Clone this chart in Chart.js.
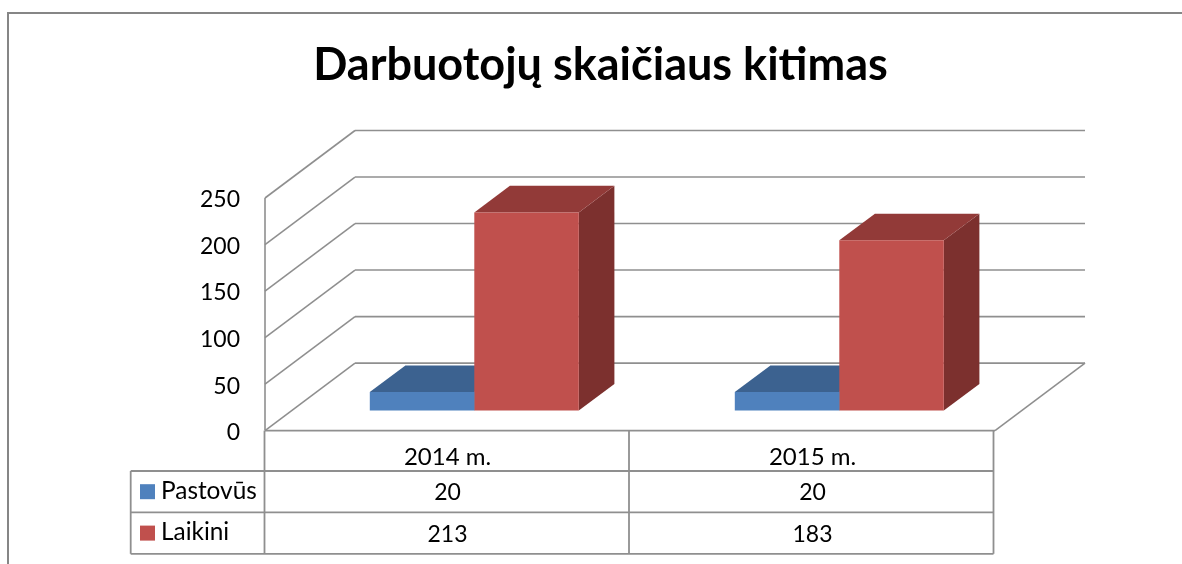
<!DOCTYPE html>
<html>
<head>
<meta charset="utf-8">
<style>html,body{margin:0;padding:0;background:#fff}#wrap{width:1182px;height:564px;position:relative}canvas{display:block}</style>
<script src="https://cdn.jsdelivr.net/npm/chart.js@4"></script>
</head>
<body>
<div id="wrap"><canvas id="c" width="1182" height="564"></canvas></div>
<script>
const categories = ['2014 m.', '2015 m.'];
const pastovus = [20, 20];
const laikini = [213, 183];
const tickValues = [0, 50, 100, 150, 200, 250];
const chartTitle = 'Darbuotojų skaičiaus kitimas';
const FONT = 'Lato, Carlito, sans-serif';
const LINE = '#8f8f8f';
const wall = { dx: 90, dy: -67.5 };
const barOffset = { dx: 26.8, dy: -20 };
const barDepth = { dx: 35.6, dy: -26.6 };
const shades = [
  { top: '#3c6290', side: '#37587f', key: '#4f81bd' },
  { top: '#923a38', side: '#7c302e', key: '#c0504d' }
];
function seg(ctx, x1, y1, x2, y2) { ctx.beginPath(); ctx.moveTo(x1, y1); ctx.lineTo(x2, y2); ctx.stroke(); }
function poly(ctx, pts, fill) {
  ctx.fillStyle = fill; ctx.beginPath();
  pts.forEach((p, i) => i ? ctx.lineTo(p[0], p[1]) : ctx.moveTo(p[0], p[1]));
  ctx.closePath(); ctx.fill();
}
const scene = {
  id: 'scene',
  afterLayout(chart) {
    const y = chart.scales.y;
    y.left = 180;
    if (!y._shifted) {
      y._shifted = true;
      const orig = y.drawLabels;
      y.drawLabels = function (area) {
        const c = chart.ctx; c.save(); c.translate(0, 2); orig.call(this, area); c.restore();
      };
    }
  },
  beforeDatasetsDraw(chart) {
    const ctx = chart.ctx, a = chart.chartArea, y = chart.scales.y;
    ctx.save();
    ctx.strokeStyle = '#868686'; ctx.lineWidth = 2;
    seg(ctx, 8, 564, 8, 13); seg(ctx, 7, 13, 1182, 13);
    ctx.strokeStyle = LINE; ctx.lineWidth = 1.6;
    tickValues.forEach(v => {
      const p = y.getPixelForValue(v);
      seg(ctx, a.left, p, a.left + wall.dx, p + wall.dy);
      seg(ctx, a.left + wall.dx, p + wall.dy, a.right + wall.dx, p + wall.dy);
    });
    seg(ctx, a.left, y.getPixelForValue(250), a.left, y.getPixelForValue(0));
    const p0 = y.getPixelForValue(0);
    seg(ctx, a.left, p0, a.right, p0);
    seg(ctx, a.right, p0, a.right + wall.dx, p0 + wall.dy);
    // back faces of the bars, painted before the library's front faces
    ctx.translate(barOffset.dx, barOffset.dy);
    chart.data.datasets.forEach((ds, i) => {
      const s = shades[i];
      chart.getDatasetMeta(i).data.forEach(b => {
        const L = b.x - b.width / 2, R = b.x + b.width / 2, T = b.y, B = b.base;
        const dx = barDepth.dx, dy = barDepth.dy;
        poly(ctx, [[R, T], [R + dx, T + dy], [R + dx, B + dy], [R, B]], s.side);
        poly(ctx, [[L, T], [L + dx, T + dy], [R + dx, T + dy], [R, T]], s.top);
      });
    });
    ctx.restore();
  },
  beforeDatasetDraw(chart) {
    chart.ctx.save();
    chart.ctx.translate(barOffset.dx, barOffset.dy);
  },
  afterDatasetDraw(chart) { chart.ctx.restore(); },
  afterDraw(chart) {
    const ctx = chart.ctx, a = chart.chartArea, xs = chart.scales.x;
    const left = 130.7, right = 993.5, rowTop = 471, rowH = 41.4, axisY = 430.6;
    const mid = (xs.getPixelForValue(0) + xs.getPixelForValue(1)) / 2 - 1;
    ctx.save();
    ctx.strokeStyle = LINE; ctx.lineWidth = 1.8;
    [0, 1, 2].forEach(i => seg(ctx, left, rowTop + i * rowH, right, rowTop + i * rowH));
    seg(ctx, left, rowTop, left, rowTop + 2 * rowH);
    seg(ctx, a.left - 0.5, axisY, a.left - 0.5, rowTop + 2 * rowH);
    seg(ctx, mid, axisY, mid, rowTop + 2 * rowH);
    seg(ctx, right, axisY, right, rowTop + 2 * rowH);
    ctx.fillStyle = '#000'; ctx.textBaseline = 'middle';
    chart.data.datasets.forEach((ds, r) => {
      const cy = rowTop + rowH * (r + 0.5);
      ctx.fillStyle = shades[r].key;
      ctx.fillRect(140, cy - 7.5, 15, 15);
      ctx.fillStyle = '#000';
      ctx.textAlign = 'left';
      ctx.font = '24.4px ' + FONT;
      ctx.fillText(ds.label, 161, cy - 1);
      ctx.textAlign = 'center';
      ctx.font = '23px ' + FONT;
      ds.data.forEach((v, i) => ctx.fillText(String(v), xs.getPixelForValue(i), cy + 1));
    });
    ctx.restore();
  }
};
new Chart(document.getElementById('c'), {
  type: 'bar',
  data: {
    labels: categories,
    datasets: [
      { label: 'Pastovūs', data: pastovus, backgroundColor: shades[0].key, clip: false },
      { label: 'Laikini', data: laikini, backgroundColor: shades[1].key, clip: false }
    ]
  },
  plugins: [scene],
  options: {
    responsive: false,
    animation: false,
    events: [],
    layout: { padding: { left: 206, right: 187, top: 38, bottom: 0 } },
    datasets: { bar: { categoryPercentage: 0.5726, barPercentage: 1 } },
    plugins: {
      legend: { display: false },
      tooltip: { enabled: false },
      title: {
        display: true, text: chartTitle, color: '#000',
        font: { family: FONT, size: 45, weight: 'bold', lineHeight: 1.2 },
        padding: { top: 0, bottom: 106 }
      }
    },
    scales: {
      x: {
        grid: { display: false }, border: { display: false },
        ticks: { color: '#000', font: { family: FONT, size: 24 }, padding: 4, maxRotation: 0 },
        afterFit(s) { s.height = 133.4; }
      },
      y: {
        min: 0, max: 250,
        afterBuildTicks(s) { s.ticks = tickValues.map(v => ({ value: v })); },
        grid: { display: false }, border: { display: false },
        ticks: { color: '#000', font: { family: FONT, size: 23 }, padding: 17 },
        afterFit(s) { s.width = 59; }
      }
    }
  }
});
</script>
</body>
</html>
